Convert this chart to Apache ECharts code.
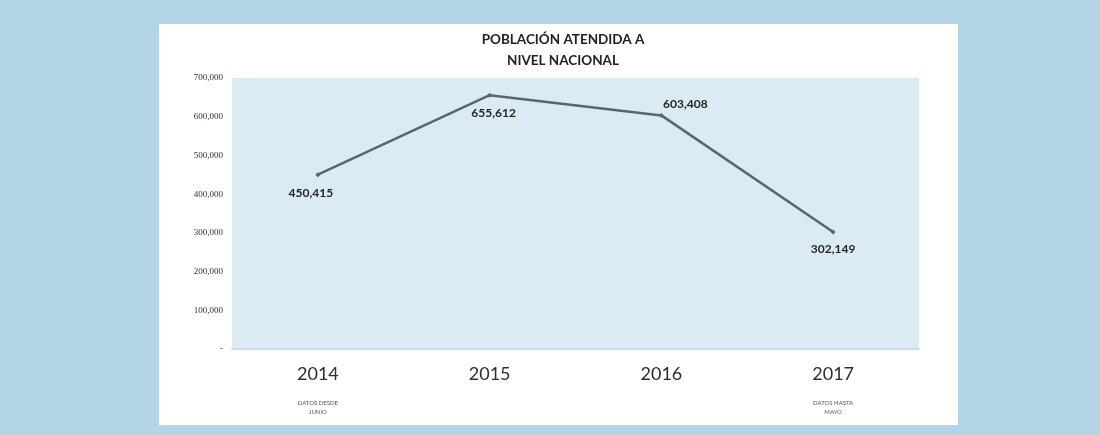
<!DOCTYPE html>
<html>
<head>
<meta charset="utf-8">
<title>Población atendida a nivel nacional</title>
<script src="https://cdn.jsdelivr.net/npm/echarts@6/dist/echarts.min.js"></script>
<style>
  html, body { margin: 0; padding: 0; background: #b4d5e8; }
  #main { width: 1100px; height: 435px; }
</style>
</head>
<body>
<div id="main"></div>
<script>
// datos
var years = ['2014', '2015', '2016', '2017'];
var yearNotes = [['DATOS DESDE', 'JUNIO'], null, null, ['DATOS HASTA', 'MAYO']];
var poblacion = [450415, 655612, 603408, 302149];
var yTicks = [0, 100000, 200000, 300000, 400000, 500000, 600000, 700000];

// donde va cada etiqueta respecto al punto
var labelOffsets = [[-7, 18], [4, 18], [24, -11], [0, 17]];

var chart = echarts.init(document.getElementById('main'));

var fmt = function (v) {
    return v === 0 ? '-' : v.toLocaleString('en-US');
};

chart.setOption({
    backgroundColor: '#b4d5e8',
    animation: false,
    graphic: [{
        type: 'rect',
        z: -10,
        shape: { x: 159, y: 24, width: 799, height: 401 },
        style: { fill: '#ffffff' }
    }],
    title: {
        text: 'POBLACIÓN ATENDIDA A\nNIVEL NACIONAL',
        left: 558,
        top: 24,
        textAlign: 'center',
        textStyle: {
            fontFamily: 'Lato',
            fontWeight: 'bold',
            fontSize: 13.5,
            lineHeight: 21,
            color: '#222'
        }
    },
    grid: {
        left: 232,
        top: 78,
        width: 687,
        height: 271,
        show: true,
        backgroundColor: '#daebf3',
        borderWidth: 0
    },
    xAxis: {
        type: 'category',
        data: years,
        boundaryGap: true,
        axisLine: { show: true, lineStyle: { color: '#c9dbe4', width: 2 } },
        axisTick: { show: false },
        axisLabel: {
            margin: 16,
            interval: 0,
            formatter: function (val, i) {
                var note = yearNotes[i];
                var s = '{y|' + val + '}';
                if (note) {
                    s += '\n{n|' + note[0] + '}\n{n|' + note[1] + '}';
                } else {
                    s += '\n{n| }\n{n| }';
                }
                return s;
            },
            rich: {
                y: { fontFamily: 'Lato', fontSize: 18, color: '#2e2e2e', lineHeight: 34, verticalAlign: 'top' },
                n: { fontFamily: 'Lato', fontSize: 6, color: '#555', lineHeight: 9 }
            }
        }
    },
    yAxis: {
        type: 'value',
        min: yTicks[0],
        max: yTicks[yTicks.length - 1],
        interval: yTicks[1] - yTicks[0],
        axisLine: { show: false },
        axisTick: { show: false },
        splitLine: { show: false },
        axisLabel: {
            margin: 9,
            fontFamily: 'Liberation Serif',
            fontSize: 9,
            color: '#333',
            formatter: fmt
        }
    },
    series: [{
        type: 'line',
        data: poblacion.map(function (v, i) {
            return {
                value: v,
                label: { offset: labelOffsets[i] }
            };
        }),
        symbol: 'diamond',
        symbolSize: 5,
        itemStyle: { color: '#5a666e' },
        lineStyle: { color: '#5a666e', width: 2.5 },
        label: {
            show: true,
            position: 'inside',
            fontFamily: 'Lato',
            fontWeight: 'bold',
            fontSize: 12,
            color: '#262626',
            formatter: function (p) { return fmt(p.value); }
        }
    }]
});
</script>
</body>
</html>
